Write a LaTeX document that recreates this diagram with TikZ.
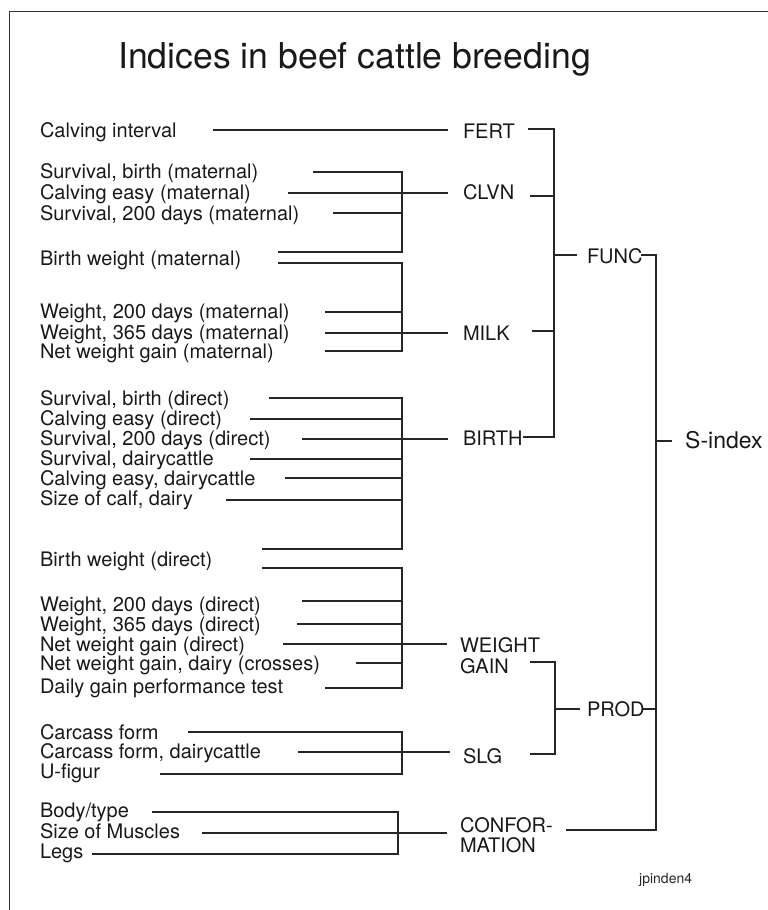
\documentclass[tikz,border=0pt]{standalone}
\usepackage{fontspec}
\setmainfont{TeX Gyre Heros}
\begin{document}
\begin{tikzpicture}[x=1pt,y=-1pt,
  lbl/.style={anchor=base west,inner sep=0pt,outer sep=0pt,font=\fontsize{20}{20.5}\selectfont,text=black!90},
  big/.style={anchor=base west,inner sep=0pt,font=\fontsize{23}{24}\selectfont,text=black!90},
  conn/.style={line width=1.2pt,black!85},
  frame/.style={line width=1.5pt,black!80}]
\useasboundingbox (0,0) rectangle (768,910);
\draw[frame] (9.5,910) -- (9.5,11.5) -- (768,11.5);
\node[anchor=base west,inner sep=0pt,font=\fontsize{35.6}{36}\selectfont,text=black!90] (title) at (118,68) {Indices in beef cattle breeding};
% left labels
\node[lbl] (r1) at (40,137) {Calving interval};
\node[lbl] (r2) at (40,178) {Survival, birth (maternal)};
\node[lbl] (r3) at (40,199) {Calving easy (maternal)};
\node[lbl] (r4) at (40,220) {Survival, 200 days (maternal)};
\node[lbl] (r5) at (40,265) {Birth weight (maternal)};
\node[lbl] (r6) at (40,318) {Weight, 200 days (maternal)};
\node[lbl] (r7) at (40,339) {Weight, 365 days (maternal)};
\node[lbl] (r8) at (40,358) {Net weight gain (maternal)};
\node[lbl] (r9) at (40,405) {Survival, birth (direct)};
\node[lbl] (r10) at (40,425) {Calving easy (direct)};
\node[lbl] (r11) at (40,445) {Survival, 200 days (direct)};
\node[lbl] (r12) at (40,465) {Survival, dairycattle};
\node[lbl] (r13) at (40,485) {Calving easy, dairycattle};
\node[lbl] (r14) at (40,505.5) {Size of calf, dairy};
\node[lbl] (r15) at (40,566) {Birth weight (direct)};
\node[lbl] (r16) at (40,611) {Weight, 200 days (direct)};
\node[lbl] (r17) at (40,631) {Weight, 365 days (direct)};
\node[lbl] (r18) at (40,651) {Net weight gain (direct)};
\node[lbl] (r19) at (40,670) {Net weight gain, dairy (crosses)};
\node[lbl] (r20) at (40,693) {Daily gain performance test};
\node[lbl] (r21) at (40,739) {Carcass form};
\node[lbl] (r22) at (40,758) {Carcass form, dairycattle};
\node[lbl] (r23) at (40,778) {U-figur};
\node[lbl] (r24) at (40,817) {Body/type};
\node[lbl] (r25) at (40,838) {Size of Muscles};
\node[lbl] (r26) at (40,858) {Legs};
% right labels
\node[lbl] (fert) at (463,138) {FERT};
\node[lbl] (clvn) at (463,199) {CLVN};
\node[lbl] (milk) at (463,340) {MILK};
\node[lbl] (birth) at (463,445) {BIRTH};
\node[lbl] (wg1) at (460,652) {WEIGHT};
\node[lbl] (wg2) at (460,673) {GAIN};
\node[lbl] (slg) at (463,763) {SLG};
\node[lbl] (conf1) at (460,832) {CONFOR-};
\node[lbl] (conf2) at (460,852) {MATION};
\node[lbl] (func) at (587,263) {FUNC};
\node[lbl] (prod) at (587,716) {PROD};
\node[big] (sidx) at (685,448) {S-index};
\node[anchor=base west,inner sep=0pt,font=\fontsize{14}{15}\selectfont,text=black!85] (sig) at (639,883) {jpinden4};
% FERT
\draw[conn] (213,130) -- (448,130);
% CLVN bracket
\draw[conn] (313,172) -- (402,172) -- (402,252) -- (278,252);
\draw[conn] (288,193) -- (448,193);
\draw[conn] (333,213) -- (402,213);
% MILK bracket
\draw[conn] (278,263) -- (402,263) -- (402,351) -- (325,351);
\draw[conn] (325,312) -- (402,312);
\draw[conn] (325,333) -- (448,333);
% BIRTH bracket
\draw[conn] (269,398) -- (402,398) -- (402,549) -- (262,549);
\draw[conn] (250,419) -- (402,419);
\draw[conn] (302,439) -- (448,439);
\draw[conn] (250,459) -- (402,459);
\draw[conn] (285,478) -- (402,478);
\draw[conn] (226,500) -- (402,500);
% WEIGHT GAIN bracket
\draw[conn] (262,568) -- (402,568) -- (402,688) -- (325,688);
\draw[conn] (302,601) -- (402,601);
\draw[conn] (297,624) -- (402,624);
\draw[conn] (283,644) -- (447,644);
\draw[conn] (356,663) -- (402,663);
% SLG bracket
\draw[conn] (188,732) -- (402,732) -- (402,774) -- (160,774);
\draw[conn] (298,752) -- (450,752);
% CONFORMATION bracket
\draw[conn] (152,812) -- (398,812) -- (398,854) -- (92,854);
\draw[conn] (202,833) -- (447,833);
% FUNC tree
\draw[conn] (528,129) -- (554,129) -- (554,437) -- (523,437);
\draw[conn] (530,196) -- (554,196);
\draw[conn] (532,331) -- (554,331);
\draw[conn] (554,255) -- (577,255);
% PROD tree
\draw[conn] (530,662) -- (555,662) -- (555,754) -- (530,754);
\draw[conn] (555,709) -- (580,709);
% S-index tree
\draw[conn] (641,255) -- (656,255) -- (656,830) -- (566,830);
\draw[conn] (643,709) -- (656,709);
\draw[conn] (656,441) -- (672,441);
\end{tikzpicture}
\end{document}
